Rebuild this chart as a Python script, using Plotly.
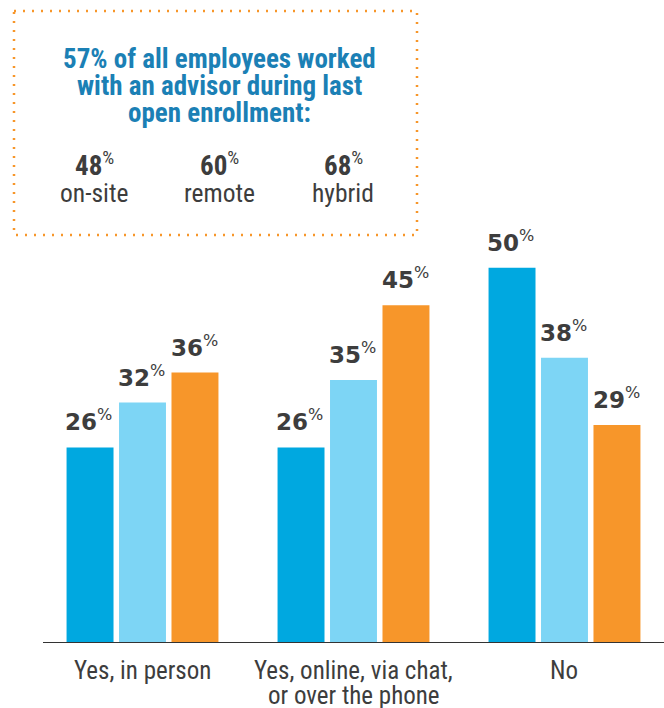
import plotly.graph_objects as go

categories = ["Yes, in person", "Yes, online, via chat,<br>or over the phone", "No"]
series_names = ["On-site", "Remote", "Hybrid"]
onsite = [26, 26, 50]
remote = [32, 35, 38]
hybrid = [36, 45, 29]
colors = ["#00A8E0", "#7DD5F5", "#F7962A"]

box_title_lines = ["57% of all employees worked", "with an advisor during last", "open enrollment:"]
box_values = [48, 60, 68]
box_labels = ["on-site", "remote", "hybrid"]

W, H = 664, 708
ML, MR, MT, MB = 43, 0, 193, 66
PW, PH = W - ML - MR, H - MT - MB

def px(x):
    return (x - ML) / PW

def py(y):
    return (H - MB - y) / PH

NARROW = "Liberation Sans Narrow, Roboto Condensed, Arial Narrow, sans-serif"
BOLDNUM = "DejaVu Sans, Verdana, sans-serif"

fig = go.Figure()
series = [onsite, remote, hybrid]
for name, vals, c in zip(series_names, series, colors):
    fig.add_bar(x=categories, y=vals, name=name, marker=dict(color=c, line=dict(width=0)))

slot = 0.249
offsets = [-slot, 0, slot]
annotations = []
for j, vals in enumerate(series):
    for i, v in enumerate(vals):
        annotations.append(dict(
            x=i + offsets[j], y=v, xref="x", yref="y",
            text=f"<b>{v}</b><sup>%</sup>", showarrow=False,
            yanchor="bottom", xanchor="center", yshift=10, xshift=-1,
            font=dict(family=BOLDNUM, size=23, color="#3d3d3d"),
        ))

# Category labels (one annotation per line, tight line spacing as in the reference)
for i, cat in enumerate(categories):
    for k, part in enumerate(cat.split("<br>")):
        annotations.append(dict(
            x=i, y=py(670.5 + 25 * k), xref="x", yref="paper", text=part,
            showarrow=False, xanchor="center", yanchor="middle",
            font=dict(family=NARROW, size=25, color="#3d3d3d"),
        ))

# Info box
for line, yc in zip(box_title_lines, [59.5, 86, 112.5]):
    annotations.append(dict(
        x=px(219), y=py(yc), xref="paper", yref="paper", text=f"<b>{line}</b>",
        showarrow=False, xanchor="center", yanchor="middle",
        font=dict(family=NARROW, size=27, color="#1B80B5"),
    ))
box_x = [94, 219, 343]
for xc, v, lab in zip(box_x, box_values, box_labels):
    annotations.append(dict(
        x=px(xc), y=py(163.5), xref="paper", yref="paper",
        text=f"<b>{v}</b><sup>%</sup>", showarrow=False,
        xanchor="center", yanchor="middle",
        font=dict(family=NARROW, size=27, color="#3d3d3d"),
    ))
    annotations.append(dict(
        x=px(xc), y=py(192.5), xref="paper", yref="paper",
        text=lab, showarrow=False,
        xanchor="center", yanchor="middle",
        font=dict(family=NARROW, size=25.5, color="#3d3d3d"),
    ))

fig.add_shape(type="rect", xref="paper", yref="paper",
              x0=px(14), x1=px(417), y0=py(11), y1=py(235),
              line=dict(color="#F7962A", width=2.5, dash="2px,7px"),
              fillcolor="rgba(0,0,0,0)")

fig.update_layout(
    width=W, height=H,
    margin=dict(l=ML, r=MR, t=MT, b=MB, pad=0, autoexpand=False),
    paper_bgcolor="white", plot_bgcolor="white",
    barmode="group", bargap=0.254, bargroupgap=0.105,
    showlegend=False,
    annotations=annotations,
    xaxis=dict(
        range=[-0.4716, 2.4716], showline=True, linecolor="#333333", linewidth=1,
        showgrid=False, zeroline=False, ticks="", automargin=False,
        showticklabels=False,
    ),
    yaxis=dict(range=[0, 60], visible=False, showgrid=False, zeroline=False, automargin=False),
)

fig.write_html("out.html", config={"displayModeBar": False},
               post_script="document.body.style.margin='0';document.body.style.overflow='hidden';")
